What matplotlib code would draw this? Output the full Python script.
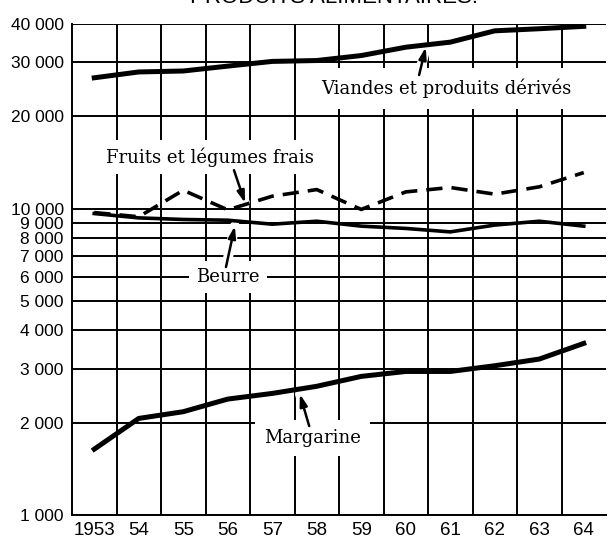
import numpy as np
import matplotlib.pyplot as plt
from matplotlib.ticker import FixedLocator, FuncFormatter

years = [1953, 1954, 1955, 1956, 1957, 1958, 1959, 1960, 1961, 1962, 1963, 1964]
year_labels = ['1953', '54', '55', '56', '57', '58', '59', '60', '61', '62', '63', '64']

viandes = [26700, 27900, 28100, 29150, 30200, 30400, 31560, 33600, 34900, 38000, 38600, 39300]
fruits = [9700, 9400, 11470, 9900, 10970, 11530, 9930, 11330, 11710, 11140, 11770, 13100]
beurre = [9630, 9320, 9210, 9160, 8890, 9090, 8760, 8610, 8390, 8830, 9090, 8760]
margarine = [1640, 2066, 2173, 2389, 2493, 2630, 2833, 2940, 2940, 3069, 3227, 3630]

y_grid = [1000, 2000, 3000, 4000, 5000, 6000, 7000, 8000, 9000, 10000, 20000, 30000, 40000]

fig = plt.figure(figsize=(6.08, 5.42), dpi=100)
ax = fig.add_axes([72 / 608, 27 / 542, 534 / 608, 491 / 542])

ax.set_yscale('log')
ax.set_ylim(1000, 40000)
ax.set_xlim(years[0] - 0.5, years[-1] + 0.5)

ax.yaxis.set_major_locator(FixedLocator(y_grid))
ax.yaxis.set_minor_locator(FixedLocator([]))
ax.yaxis.set_major_formatter(FuncFormatter(lambda v, p: f"{int(v):,}".replace(',', ' ')))
ax.set_xticks(years)
ax.set_xticklabels(year_labels)
ax.set_xticks([y + 0.5 for y in years[:-1]], minor=True)

ax.grid(True, axis='y', which='major', color='black', lw=1.4)
ax.grid(True, axis='x', which='minor', color='black', lw=1.4)
ax.set_axisbelow(True)
ax.tick_params(which='both', length=0)
ax.tick_params(axis='y', pad=6, labelsize=12.5)
ax.tick_params(axis='x', pad=5, labelsize=13.5)
for lab in ax.get_xticklabels() + ax.get_yticklabels():
    lab.set_fontfamily('Liberation Sans')
for s in ax.spines.values():
    s.set_linewidth(1.4)
ax.spines['top'].set_visible(False)
ax.spines['right'].set_visible(False)

ax.plot(years, viandes, color='black', lw=3.6, zorder=4)
ax.plot(years, beurre, color='black', lw=2.6, zorder=4)
ax.plot(years, fruits, color='black', lw=2.6, dashes=(4.5, 2.5), zorder=4)
ax.plot(years, margarine, color='black', lw=3.6, zorder=4)


def label(text, xy, tail, pos, pad=0.4):
    # white box breaks the grid, arrow sits above it but under the curves
    ax.text(pos[0], pos[1], text, fontfamily='DejaVu Serif', fontsize=13,
            ha='center', va='center', zorder=3.5,
            bbox=dict(boxstyle=f'square,pad={pad}', fc='white', ec='none'))
    ax.annotate('', xy=xy, xytext=tail, zorder=3.55,
                arrowprops=dict(arrowstyle='-', color='white', lw=7,
                                shrinkA=0, shrinkB=0))
    ax.annotate('', xy=xy, xytext=tail, zorder=3.6,
                arrowprops=dict(arrowstyle='-|>,head_length=0.7,head_width=0.22',
                                color='black', lw=1.8, shrinkA=0, shrinkB=0))


label('Viandes et produits dérivés', (1960.45, 33600), (1960.3, 27260), (1960.9, 24700), pad=0.6)
label('Fruits et légumes frais', (1956.39, 10420), (1956.14, 13340), (1955.6, 14700))
label('Beurre', (1956.16, 8770), (1955.96, 6445), (1956.0, 5970))
label('Margarine', (1957.62, 2482), (1957.83, 1951), (1957.9, 1782), pad=0.5)

fig.text(0.55, 1 - 3 / 542, 'PRODUITS ALIMENTAIRES.', ha='center', va='baseline',
         fontsize=16, fontfamily='Liberation Sans')

fig.savefig('out.png', dpi=100)
